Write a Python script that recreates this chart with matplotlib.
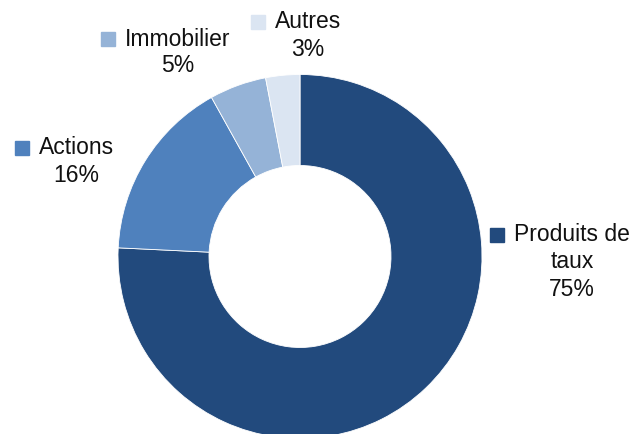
import matplotlib
matplotlib.use("Agg")
import matplotlib.pyplot as plt

# donnees
categories = ["Produits de taux", "Actions", "Immobilier", "Autres"]
valeurs = [75, 16, 5, 3]
couleurs = ["#224A7D", "#4F81BD", "#95B3D7", "#DBE5F2"]
# libelles affiches (nom sur une ou deux lignes + pourcentage)
libelles = [["Produits de", "taux", "75%"], ["Actions", "16%"],
            ["Immobilier", "5%"], ["Autres", "3%"]]

W, H = 634, 434
CX, CY, R = 300, 256.5, 182   # centre et rayon du donut (px)
# position (px) du centre de la premiere ligne de chaque libelle
pos_lib = [(572, 235), (76.5, 148), (177.5, 39), (308, 22)]
INTERLIGNE = 27

plt.rcParams["font.family"] = ["Liberation Sans", "DejaVu Sans"]

fig = plt.figure(figsize=(W / 100, H / 100), dpi=100)
ax = fig.add_axes([0, 0, 1, 1])

ax.pie(valeurs, colors=couleurs, startangle=90, counterclock=False,
       radius=1.0, wedgeprops=dict(width=0.5, edgecolor="white", linewidth=0.6))

# pie() impose ses propres limites -> on les remet apres
ax.set_xlim(-CX / R, (W - CX) / R)
ax.set_ylim((CY - H) / R, CY / R)
ax.set_aspect("equal")
ax.axis("off")

def px2d(x, y):
    return (x - CX) / R, (CY - y) / R

fig.canvas.draw()
rend = fig.canvas.get_renderer()
for lignes, (px, py), coul in zip(libelles, pos_lib, couleurs):
    textes = []
    for i, l in enumerate(lignes):
        t = ax.text(*px2d(px, py + i * INTERLIGNE), l, ha="center", va="center",
                    fontsize=16.5, color="#111111")
        textes.append(t)
    bb = textes[0].get_window_extent(renderer=rend)
    # carre de legende a gauche de la premiere ligne
    xs = bb.x0 - 17
    ax.plot(*px2d(xs, py), marker="s", markersize=9.5, color=coul,
            linestyle="none")

fig.savefig("out.png", dpi=100)
